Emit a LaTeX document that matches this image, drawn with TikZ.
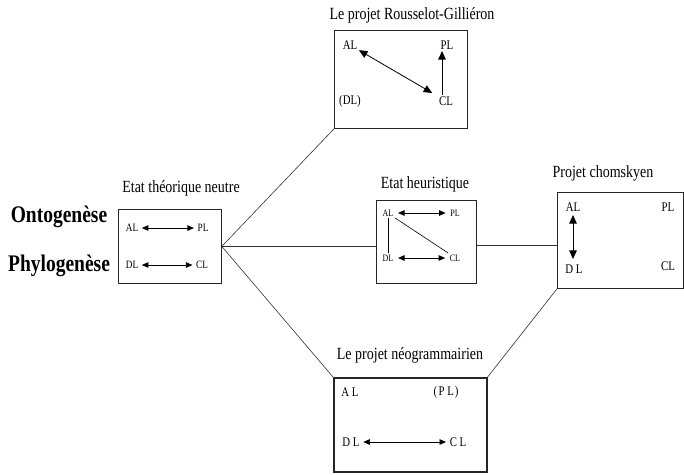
\documentclass[tikz,border=0pt]{standalone}
\usepackage{fontspec}
\setmainfont{Liberation Serif}
\usetikzlibrary{arrows.meta}
\newcommand{\tall}[1]{\scalebox{1}[1.22]{#1}}
\begin{document}
\begin{tikzpicture}[x=1pt,y=-1pt,
  box/.style={draw=black!85, line width=0.8pt, rectangle, inner sep=0pt, anchor=north west},
  thickbox/.style={box, line width=1.6pt},
  title/.style={inner sep=0pt, font=\fontsize{14}{16}\selectfont},
  side/.style={inner sep=0pt, font=\fontsize{19.5}{22}\selectfont\bfseries},
  labS/.style={inner sep=1.5pt, font=\fontsize{9.2}{10}\selectfont},
  labT/.style={inner sep=1.5pt, font=\fontsize{8}{9}\selectfont},
  labL/.style={inner sep=1.5pt, font=\fontsize{10.8}{12}\selectfont},
  link/.style={line width=0.6pt, draw=black!80},
  tipS/.tip={Triangle[length=6.5pt,width=5.5pt]},
  tipL/.tip={Triangle[length=8.5pt,width=7.5pt]},
  dblS/.style={line width=0.8pt, tipS-tipS},
  dblL/.style={line width=0.8pt, tipL-tipL},
]
\useasboundingbox (0,0) rectangle (684,474);

% boxes
\node[box, minimum width=133pt, minimum height=98pt] (rg) at (334,30) {};
\node[box, minimum width=103pt, minimum height=74pt] (ne) at (118,209) {};
\node[box, minimum width=100pt, minimum height=83pt] (he) at (376,200) {};
\node[box, minimum width=126pt, minimum height=96pt] (ch) at (557,192) {};
\node[thickbox, minimum width=153pt, minimum height=94pt] (neo) at (333,377) {};

% titles
\node[title] (trg) at (412,15) {\tall{Le projet Rousselot-Gilliéron}};
\node[title] (tne) at (181,188) {\tall{Etat théorique neutre}};
\node[title] (the) at (425,184) {\tall{Etat heuristique}};
\node[title] (tch) at (603,173) {\tall{Projet chomskyen}};
\node[title] (tneo) at (410,355) {\tall{Le projet néogrammairien}};

\node[side] (onto) at (59,217) {\tall{Ontogenèse}};
\node[side] (phylo) at (59,266) {\tall{Phylogenèse}};

% connectors between boxes
\draw[link] (ne.east) -- (rg.south west);
\draw[link] (ne.east) -- (ne.east -| he.west);
\draw[link] (ne.east) -- (neo.north west);
\draw[link] ([yshift=1pt]he.east |- ne.east) -- ([yshift=1pt]ch.west |- ne.east);
\draw[link] (ch.south west) -- (neo.north east);

% Rousselot-Gillieron box content
\node[labL] (rAL) at (350,45) {\tall{AL}};
\node[labL] (rPL) at (447,45) {\tall{PL}};
\node[labL] (rDL) at (350,101) {\tall{(DL)}};
\node[labL] (rCL) at (446,101) {\tall{CL}};
\draw[dblL, shorten >=6pt] (rAL) -- (rCL);
\draw[line width=0.8pt, -tipL] ([xshift=-4pt]rCL.north) -- ([xshift=-5pt]rPL.south);

% neutral box content
\node[labS] (nAL) at (132,228) {\tall{AL}};
\node[labS] (nPL) at (203,228) {\tall{PL}};
\node[labS] (nDL) at (132,265) {\tall{DL}};
\node[labS] (nCL) at (202,265) {\tall{CL}};
\draw[dblS, shorten <=2pt, shorten >=2pt] (nAL) -- (nPL);
\draw[dblS, shorten <=2pt, shorten >=2pt] (nDL) -- (nCL);

% heuristic box content
\node[labT] (hAL) at (388,213) {\tall{AL}};
\node[labT] (hPL) at (455,213) {\tall{PL}};
\node[labT] (hDL) at (388,258) {\tall{DL}};
\node[labT] (hCL) at (455,258) {\tall{CL}};
\draw[dblS, shorten <=3pt, shorten >=3pt] (hAL) -- (hPL);
\draw[dblS, shorten <=3pt, shorten >=3pt] (hDL) -- (hCL);
\draw[line width=0.6pt] (hAL) -- (hDL);
\draw[line width=0.6pt] (hAL.south east) -- (hCL.north west);

% Chomsky box content
\node[labL] (cAL) at (573,207) {\tall{AL}};
\node[labL] (cPL) at (668,207) {\tall{PL}};
\node[labL] (cDL) at (574,269) {\tall{D L}};
\node[labL] (cCL) at (668,266) {\tall{CL}};
\draw[dblL, shorten <=2pt, shorten >=4pt] (cAL) -- (cAL |- cDL.north);

% neogrammarian box content
\node[labL] (gAL) at (350,392) {\tall{A L}};
\node[labL] (gPL) at (446,392) {\tall{(\kern1.5pt P L\kern1pt)}};
\node[labL] (gDL) at (351,442) {\tall{D L}};
\node[labL] (gCL) at (458,442) {\tall{C L}};
\draw[dblS, shorten <=2pt, shorten >=2pt] (gDL) -- (gCL);
\end{tikzpicture}
\end{document}
